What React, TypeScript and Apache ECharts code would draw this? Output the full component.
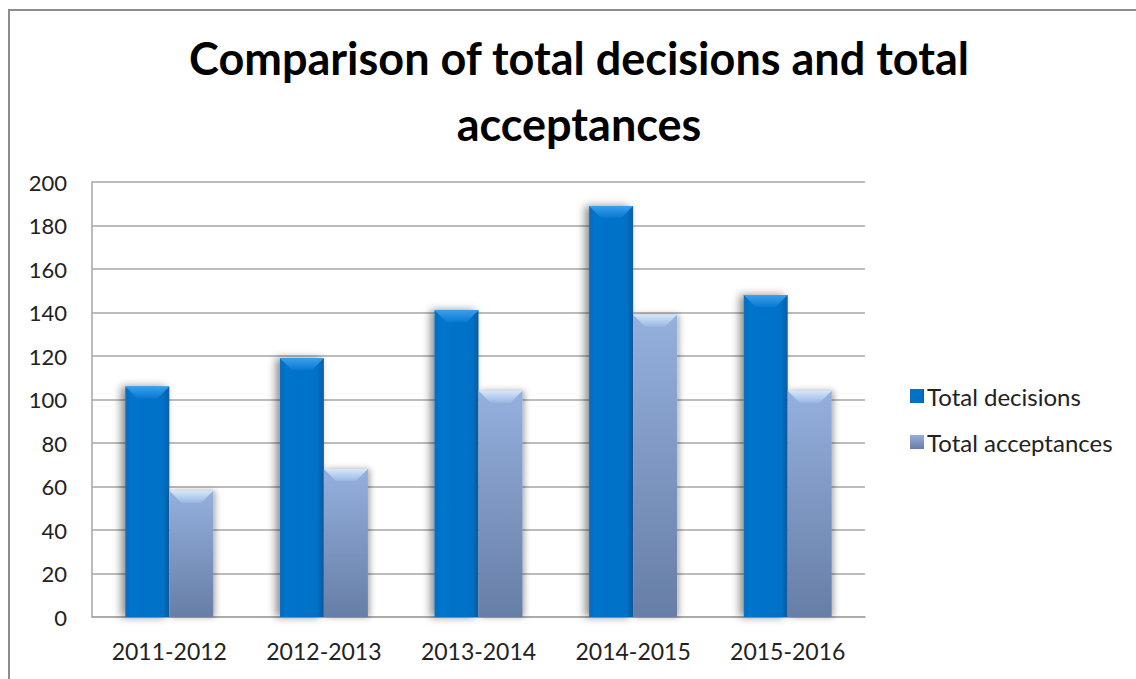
import React, { useEffect, useRef } from "react";
import * as echarts from "echarts";

const categories = ["2011-2012", "2012-2013", "2013-2014", "2014-2015", "2015-2016"];
const totalDecisions = [106, 119, 141, 189, 148];
const totalAcceptances = [58, 68, 104, 139, 104];
const seriesNames = ["Total decisions", "Total acceptances"];
const titleText = "Comparison of total decisions and total\nacceptances";

const FONT = "Lato, 'Open Sans', sans-serif";
const BAR_W = 44;
const BEVEL = 12;

export default function App() {
  const ref = useRef<HTMLDivElement>(null);
  useEffect(() => {
    if (!ref.current) return;
    const chart = echarts.init(ref.current, null, { renderer: "svg" });

    const decColor = new echarts.graphic.LinearGradient(0, 0, 1, 0, [
      { offset: 0, color: "#0a6cbc" },
      { offset: 0.12, color: "#0074cb" },
      { offset: 0.85, color: "#0071c6" },
      { offset: 1, color: "#0a5da3" },
    ]);
    const accColor = new echarts.graphic.LinearGradient(0, 0, 0, 1, [
      { offset: 0, color: "#94b0dd" },
      { offset: 1, color: "#677ea6" },
    ]);

    const bevelData = categories.map((c, i) => [i, totalDecisions[i], totalAcceptances[i]]);

    const renderBevel = (params: any, api: any) => {
      const idx = api.value(0);
      const base = api.coord([idx, 0]);
      const cx = base[0];
      const children: any[] = [];
      const vals = [api.value(1), api.value(2)];
      const tops = [
        { color0: "#3aa0ee", color1: "#0a78d0", x0: cx - BAR_W },
        { color0: "#d6e6fb", color1: "#9ab7e2", x0: cx },
      ];
      vals.forEach((v: number, k: number) => {
        const yTop = api.coord([idx, v])[1];
        const x0 = tops[k].x0;
        const x1 = x0 + BAR_W;
        children.push({
          type: "polygon",
          shape: {
            points: [
              [x0, yTop],
              [x1, yTop],
              [x1 - BEVEL, yTop + BEVEL],
              [x0 + BEVEL, yTop + BEVEL],
            ],
          },
          style: {
            fill: new echarts.graphic.LinearGradient(0, 0, 0, 1, [
              { offset: 0, color: tops[k].color0 },
              { offset: 1, color: tops[k].color1 },
            ]),
          },
        });
      });
      return { type: "group", children };
    };

    chart.setOption({
      animation: false,
      backgroundColor: "#ffffff",
      title: {
        text: titleText,
        left: 574,
        top: 20,
        textAlign: "center",
        textStyle: {
          fontFamily: FONT,
          fontWeight: "bold",
          fontSize: 45,
          lineHeight: 66,
          color: "#000000",
        },
      },
      legend: {
        orient: "vertical",
        left: 905,
        top: 379,
        itemGap: 22,
        itemWidth: 14,
        itemHeight: 14,
        icon: "rect",
        data: seriesNames,
        textStyle: { fontFamily: FONT, fontSize: 24, color: "#222222", padding: [0, 0, 0, -2] },
      },
      grid: { left: 92, right: 271, top: 182, bottom: 62 },
      xAxis: {
        type: "category",
        data: categories,
        axisTick: { show: false },
        axisLine: { lineStyle: { color: "#a6a6a6", width: 1.5 } },
        axisLabel: { fontFamily: FONT, fontSize: 23, color: "#222222", margin: 22 },
      },
      yAxis: {
        type: "value",
        min: 0,
        max: 200,
        interval: 20,
        axisLine: { show: true, lineStyle: { color: "#a6a6a6", width: 1.5 } },
        axisTick: { show: false },
        splitLine: { lineStyle: { color: "#a6a6a6", width: 1.5 } },
        axisLabel: { fontFamily: FONT, fontSize: 22, color: "#222222", margin: 25 },
      },
      graphic: [
        {
          type: "rect",
          shape: { x: 9, y: 10, width: 1300, height: 900 },
          style: { fill: "none", stroke: "#8c8c8c", lineWidth: 2 },
          silent: true,
          z: 100,
        },
      ],
      series: [
        {
          name: seriesNames[0],
          type: "bar",
          data: totalDecisions,
          barWidth: BAR_W,
          barGap: "0%",
          itemStyle: {
            color: decColor,
            shadowColor: "rgba(0,0,0,0.45)",
            shadowBlur: 8,
            shadowOffsetX: -4,
            shadowOffsetY: 0,
          },
        },
        {
          name: seriesNames[1],
          type: "bar",
          data: totalAcceptances,
          barWidth: BAR_W,
          barGap: "0%",
          itemStyle: {
            color: accColor,
            shadowColor: "rgba(0,0,0,0.35)",
            shadowBlur: 6,
            shadowOffsetX: 2,
            shadowOffsetY: 0,
          },
        },
        {
          name: "bevel",
          type: "custom",
          data: bevelData,
          renderItem: renderBevel,
          silent: true,
          z: 3,
          encode: { x: 0, y: [1, 2] },
        },
      ],
    });
    return () => chart.dispose();
  }, []);
  return (
    <div
      ref={ref}
      style={{ position: "absolute", left: 0, top: 0, width: 1136, height: 679 }}
    />
  );
}
